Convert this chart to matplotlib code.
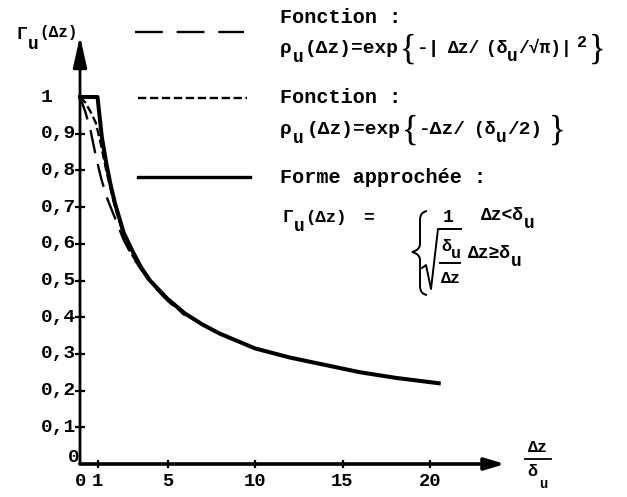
import matplotlib.pyplot as plt
from matplotlib.lines import Line2D
from matplotlib.path import Path
from matplotlib.patches import PathPatch

# Gamma_u versus dz / delta_u
approx_x = [0, 1, 1.25, 1.5, 1.75, 2, 2.5, 3, 3.5, 4, 5, 6, 7, 8, 9, 10, 12, 14, 16, 18, 20.5]
approx_y = [1, 1, 0.89, 0.82, 0.76, 0.71, 0.63, 0.58, 0.535, 0.5, 0.45, 0.41, 0.38,
            0.355, 0.335, 0.315, 0.29, 0.27, 0.25, 0.235, 0.22]

gauss_x = [0, 0.3, 0.6, 0.9, 1.2, 1.5, 2, 2.5, 3, 3.5, 4, 5, 6]
gauss_y = [1, 0.96, 0.91, 0.84, 0.78, 0.73, 0.67, 0.61, 0.565, 0.53, 0.495, 0.445, 0.405]

expo_x = [0, 0.3, 0.6, 0.9, 1.2, 1.5, 2, 2.5, 3, 3.5, 4, 5, 6]
expo_y = [1, 0.985, 0.96, 0.93, 0.87, 0.8, 0.7, 0.622, 0.568, 0.53, 0.497, 0.446, 0.406]

x_ticks = [1, 5, 10, 15, 20]
x_tick_labels = ['1', '5', '10', '15', '20']
y_ticks = [0.1, 0.2, 0.3, 0.4, 0.5, 0.6, 0.7, 0.8, 0.9, 1.0]
y_tick_labels = ['0,1', '0,2', '0,3', '0,4', '0,5', '0,6', '0,7', '0,8', '0,9', '1']

W, H = 627, 497
X0, XS = 80, 17.5     # pixel of dz=0, pixels per unit
Y0, YS = 464, 367     # pixel of Gamma=0, pixels per unit

MONO = ['Liberation Mono', 'DejaVu Sans Mono']
SERIF = ['Liberation Serif', 'DejaVu Serif']
plt.rcParams['lines.scale_dashes'] = False

LONG_DASH = (0, (17, 8))
SHORT_DASH = (0, (6, 2.6))

fig = plt.figure(figsize=(W / 100, H / 100), dpi=100)
fig.patch.set_facecolor('white')
renderer = fig.canvas.get_renderer()

ax = fig.add_axes([0, 0, 1, 1])
ax.set_xlim(-X0 / XS, (W - X0) / XS)
ax.set_ylim(-(H - Y0) / YS, Y0 / YS)
ax.axis('off')


def fx(px):
    return px / W


def fy(py):
    return 1 - py / H


def dx(px):
    return (px - X0) / XS


def dy(py):
    return (Y0 - py) / YS


def put_row(x, y, pieces):
    # lay text pieces left to right, dy moves the baseline down (pixels)
    for piece in pieces:
        txt, size, off, gap = piece[:4]
        fam = SERIF if len(piece) > 4 else MONO
        x += gap
        t = fig.text(fx(x), fy(y + off), txt, fontsize=size, family=fam,
                     weight='normal' if fam is SERIF else 'bold',
                     ha='left', va='baseline')
        x = t.get_window_extent(renderer).x1
    return x


# axes with arrow heads
ax.annotate('', xy=(dx(505), 0), xytext=(0, 0),
            arrowprops=dict(arrowstyle='-|>,head_length=1.2,head_width=0.36',
                            lw=2.6, color='black', shrinkA=0, shrinkB=0,
                            mutation_scale=10))
ax.annotate('', xy=(0, dy(36)), xytext=(0, 0),
            arrowprops=dict(arrowstyle='-|>,head_length=1.9,head_width=0.42',
                            lw=2.0, color='black', shrinkA=0, shrinkB=0,
                            mutation_scale=10))

# tick marks and labels
ax.plot(x_ticks, [0] * len(x_ticks), ls='none', marker='|', ms=6, mew=1.6, color='black')
ax.plot([0] * (len(y_ticks) - 1), y_ticks[:-1], ls='none', marker='_', ms=7, mew=1.6,
        color='black')
for t, lab in zip(x_ticks, x_tick_labels):
    ax.text(t, dy(482), lab, ha='center', va='center', fontsize=13.5, family=MONO,
            weight='bold')
ax.text(0, dy(482), '0', ha='center', va='center', fontsize=13.5, family=MONO,
        weight='bold')
ax.text(-0.02, dy(458), '0', ha='right', va='center', fontsize=14, family=MONO,
        weight='bold')
for t, lab in zip(y_ticks, y_tick_labels):
    ax.text(dx(41), t, lab, ha='left', va='center', fontsize=14, family=MONO,
            weight='bold')

# curves
ax.plot(gauss_x, gauss_y, color='black', lw=1.7, linestyle=LONG_DASH)
ax.plot(expo_x, expo_y, color='black', lw=1.7, linestyle=SHORT_DASH)
ax.plot(approx_x, approx_y, color='black', lw=2.9, solid_joinstyle='round')

# axis titles
put_row(16, 39, [('Γ', 13, 0, 0), ('u', 13, 10, 1), ('(Δz)', 11.5, -2, 1)])
fig.text(fx(538), fy(452), 'Δz', fontsize=12, family=MONO, weight='bold',
         ha='center', va='baseline')
fig.add_artist(Line2D([fx(525), fx(551)], [fy(459), fy(459)], color='black', lw=1.3))
put_row(527, 476, [('δ', 12, 0, 0), ('u', 10, 12, 2)])

# legend samples
fig.add_artist(Line2D([fx(135), fx(244)], [fy(32), fy(32)], color='black', lw=1.7,
                      linestyle=(0, (20, 10))))
fig.add_artist(Line2D([fx(138), fx(247)], [fy(98), fy(98)], color='black', lw=1.7,
                      linestyle=SHORT_DASH))
fig.add_artist(Line2D([fx(138), fx(250)], [fy(177), fy(177)], color='black', lw=2.4))

# legend texts
put_row(280, 23, [('Fonction :', 14.5, 0, 0)])
put_row(280, 53, [('ρ', 14, 0, 0), ('u', 13, 9, 1), ('(Δz)=exp', 14, 0, 1),
                  ('{', 25, 6, 1, 's'), ('-|', 14, 0, 1), ('Δz/', 13, 0, 7),
                  ('(δ', 13, 0, 6), ('u', 13, 8, 0), ('/√π)|', 13, 0, 0),
                  ('2', 12, -6, 5), ('}', 25, 6, 2, 's')])
put_row(280, 103, [('Fonction :', 14.5, 0, 0)])
put_row(280, 134, [('ρ', 14, 0, 0), ('u', 13, 9, 1), ('(Δz)=exp', 14, 0, 3),
                   ('{', 25, 6, 1, 's'), ('-Δz/', 14, 0, 1), ('(δ', 13, 0, 8),
                   ('u', 13, 8, 0), ('/2)', 14, 0, 1), ('}', 25, 6, 6, 's')])
put_row(280, 183, [('Forme approchée :', 14.5, 0, 0)])
put_row(282, 222, [('Γ', 13, 0, 0), ('u', 13, 9, 1), ('(Δz)', 12.5, 0, 1), ('=', 13, 0, 16)])

# piecewise brace
brace = Path([(427, 211), (420, 212), (420, 220), (420, 244), (420, 250), (412, 252),
              (420, 254), (420, 260), (420, 286), (420, 294), (427, 295)],
             [Path.MOVETO, Path.CURVE3, Path.CURVE3, Path.LINETO, Path.CURVE3, Path.CURVE3,
              Path.CURVE3, Path.CURVE3, Path.LINETO, Path.CURVE3, Path.CURVE3])
brace = Path([(fx(p[0]), fy(p[1])) for p in brace.vertices], brace.codes)
fig.add_artist(PathPatch(brace, transform=fig.transFigure, fill=False, lw=1.4,
                         edgecolor='black'))

put_row(443, 222, [('1', 13, 0, 0)])
put_row(481, 220, [('Δz<δ', 13, 0, 0), ('u', 13, 8, 0)])

# square root of delta_u / dz
root = [(422, 268), (426, 265), (431, 289), (438, 229), (461, 229)]
fig.add_artist(Line2D([fx(p[0]) for p in root], [fy(p[1]) for p in root], color='black',
                      lw=1.4))
put_row(441, 251, [('δ', 12, 0, 0), ('u', 12, 7, 0)])
fig.add_artist(Line2D([fx(440), fx(460)], [fy(263), fy(263)], color='black', lw=1.4))
put_row(441, 283, [('Δz', 12, 0, 0)])
put_row(468, 258, [('Δz≥δ', 13, 0, 0), ('u', 13, 8, 0)])

fig.savefig('out.png', dpi=100, facecolor='white')
